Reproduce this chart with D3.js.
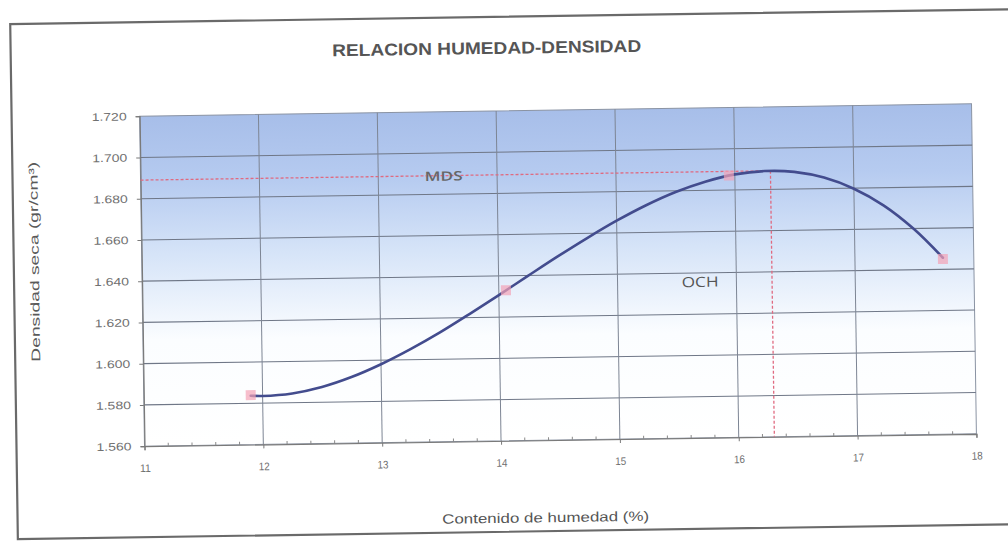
<!DOCTYPE html>
<html>
<head>
<meta charset="utf-8">
<script src="https://cdn.jsdelivr.net/npm/d3@7"></script>
<style>
  html, body { margin: 0; padding: 0; background: #ffffff; }
  svg { display: block; }
</style>
</head>
<body>
<script>
// Compaction test: dry density vs. moisture content
const moisture = [11.9, 14.06, 15.95, 17.74];          // %
const density  = [1.584, 1.633, 1.687, 1.645];         // gr/cm3

// Fitted trend curve through the test points
const curveMoisture = [11.9, 12.0, 12.25, 12.5, 12.75, 13.0, 13.25, 13.5, 13.75, 14.0, 14.25, 14.5, 14.75, 15.0, 15.25, 15.5, 15.75, 16.0, 16.25, 16.5, 16.75, 17.0, 17.25, 17.5, 17.74];
const curveDensity  = [1.5837, 1.5835, 1.5845, 1.5874, 1.5920, 1.5980, 1.6051, 1.6130, 1.6217, 1.6307, 1.6399, 1.6490, 1.6577, 1.6659, 1.6732, 1.6794, 1.6842, 1.6875, 1.6889, 1.6883, 1.6853, 1.6797, 1.6713, 1.6597, 1.6456];

// Maximum dry density and optimum moisture content
const mds = 1.689;
const och = 16.3;

const xTicks = [11, 12, 13, 14, 15, 16, 17, 18];
const yTicks = [1.56, 1.58, 1.60, 1.62, 1.64, 1.66, 1.68, 1.70, 1.72];

const W = 1008, H = 544;
const plot = { left: 142, right: 974, top: 110, bottom: 440 };

const svg = d3.select("body").append("svg")
  .attr("width", W).attr("height", H);

const defs = svg.append("defs");
const grad = defs.append("linearGradient")
  .attr("id", "plotBg").attr("x1", 0).attr("y1", 0).attr("x2", 0).attr("y2", 1);
grad.append("stop").attr("offset", "0%").attr("stop-color", "#a7bee9");
grad.append("stop").attr("offset", "20%").attr("stop-color", "#b6cbf0");
grad.append("stop").attr("offset", "42%").attr("stop-color", "#d6e4f8");
grad.append("stop").attr("offset", "68%").attr("stop-color", "#fbfdff");
grad.append("stop").attr("offset", "100%").attr("stop-color", "#ffffff");

// whole sheet is slightly tilted
const g = svg.append("g")
  .attr("transform", "rotate(-0.85 558 275)");

// outer frame of the sheet
g.append("path")
  .attr("d", "M1030,16 L14,16 L14,531 L1030,531")
  .attr("fill", "none")
  .attr("stroke", "#6a6a6a")
  .attr("stroke-width", 2.2);

const x = d3.scaleLinear().domain([11, 18]).range([plot.left, plot.right]);
const y = d3.scaleLinear().domain([1.56, 1.72]).range([plot.bottom, plot.top]);

// plot background
g.append("rect")
  .attr("x", plot.left).attr("y", plot.top)
  .attr("width", plot.right - plot.left).attr("height", plot.bottom - plot.top)
  .attr("fill", "url(#plotBg)")
  .attr("stroke", "#8a93a3").attr("stroke-width", 1);

// grid
g.append("g").selectAll("line").data(yTicks.slice(1, -1)).join("line")
  .attr("x1", plot.left).attr("x2", plot.right)
  .attr("y1", d => y(d)).attr("y2", d => y(d))
  .attr("stroke", "#6f7787").attr("stroke-width", 1.1);
g.append("g").selectAll("line").data(xTicks.slice(1, -1)).join("line")
  .attr("x1", d => x(d)).attr("x2", d => x(d))
  .attr("y1", plot.top).attr("y2", plot.bottom)
  .attr("stroke", "#7d8594").attr("stroke-width", 1);

// minor ticks along the moisture axis
const minor = d3.range(11.2, 18, 0.2).filter(v => Math.abs(v - Math.round(v)) > 0.01);
g.append("g").selectAll("line").data(minor).join("line")
  .attr("x1", d => x(d)).attr("x2", d => x(d))
  .attr("y1", plot.bottom).attr("y2", plot.bottom - 3)
  .attr("stroke", "#8a8a8a").attr("stroke-width", 1);

const font = "'Liberation Sans', Arial, sans-serif";

// axes
const xAxis = g.append("g")
  .attr("transform", `translate(0,${plot.bottom})`)
  .call(d3.axisBottom(x).tickValues(xTicks).tickFormat(d3.format("d")).tickSize(4).tickPadding(14));
const yAxis = g.append("g")
  .attr("transform", `translate(${plot.left},0)`)
  .call(d3.axisLeft(y).tickValues(yTicks).tickFormat(d3.format(".3f")).tickSize(4).tickPadding(9));
[xAxis, yAxis].forEach(a => {
  a.select(".domain").attr("stroke", "#7a7a7a").attr("stroke-width", 1.2);
  a.selectAll(".tick line").attr("stroke", "#7a7a7a");
  a.selectAll(".tick text")
    .attr("fill", "#707070")
    .style("font-family", font)
    .style("font-size", "11px");
});
yAxis.selectAll(".tick text").attr("textLength", 35).attr("lengthAdjust", "spacingAndGlyphs");
xAxis.selectAll(".tick text").attr("textLength", 11).attr("lengthAdjust", "spacingAndGlyphs");

// MDS / OCH reference lines
const refColor = "#e06a80";
g.append("line")
  .attr("x1", x(11)).attr("x2", x(och))
  .attr("y1", y(mds)).attr("y2", y(mds))
  .attr("stroke", refColor).attr("stroke-width", 1.3)
  .attr("stroke-dasharray", "3,2");
g.append("line")
  .attr("x1", x(och)).attr("x2", x(och))
  .attr("y1", y(mds)).attr("y2", y(1.56))
  .attr("stroke", refColor).attr("stroke-width", 1.3)
  .attr("stroke-dasharray", "3,2");

// trend curve
const line = d3.line()
  .x((d, i) => x(curveMoisture[i]))
  .y(d => y(d))
  .curve(d3.curveCatmullRom.alpha(0.5));
g.append("path")
  .datum(curveDensity)
  .attr("d", line)
  .attr("fill", "none")
  .attr("stroke", "#434c8e")
  .attr("stroke-width", 2.6)
  .attr("stroke-linecap", "round");

// test points
g.append("g").selectAll("rect").data(moisture).join("rect")
  .attr("x", (d) => x(d) - 5)
  .attr("y", (d, i) => y(density[i]) - 5)
  .attr("width", 10).attr("height", 10)
  .attr("fill", "#f3a3b6")
  .attr("fill-opacity", 0.7);

// annotations
g.append("text")
  .attr("x", x(13.55)).attr("y", y(mds) + 5)
  .attr("text-anchor", "middle")
  .attr("textLength", 38).attr("lengthAdjust", "spacingAndGlyphs")
  .attr("fill", "#666").style("font-family", "'Open Sans', 'Liberation Sans', sans-serif")
  .style("font-size", "13px").style("font-weight", "600")
  .text("MDS");
g.append("text")
  .attr("x", 700).attr("y", 289)
  .attr("text-anchor", "middle")
  .attr("textLength", 37).attr("lengthAdjust", "spacingAndGlyphs")
  .attr("fill", "#555").style("font-family", "'Open Sans', 'Liberation Sans', sans-serif")
  .style("font-size", "14px")
  .text("OCH");

// titles
g.append("text")
  .attr("x", 490).attr("y", 53)
  .attr("text-anchor", "middle")
  .attr("textLength", 309).attr("lengthAdjust", "spacingAndGlyphs")
  .attr("fill", "#555").style("font-family", font)
  .style("font-size", "17px").style("font-weight", "bold")
  .text("RELACION HUMEDAD-DENSIDAD");
g.append("text")
  .attr("x", 542).attr("y", 522)
  .attr("text-anchor", "middle")
  .attr("textLength", 207).attr("lengthAdjust", "spacingAndGlyphs")
  .attr("fill", "#555").style("font-family", font)
  .style("font-size", "13.5px")
  .text("Contenido de humedad (%)");
g.append("text")
  .attr("transform", "translate(39,254) rotate(-90)")
  .attr("text-anchor", "middle")
  .attr("textLength", 200).attr("lengthAdjust", "spacingAndGlyphs")
  .attr("fill", "#5a5a5a").style("font-family", font)
  .style("font-size", "12.5px")
  .text("Densidad seca (gr/cm³)");
</script>
</body>
</html>
